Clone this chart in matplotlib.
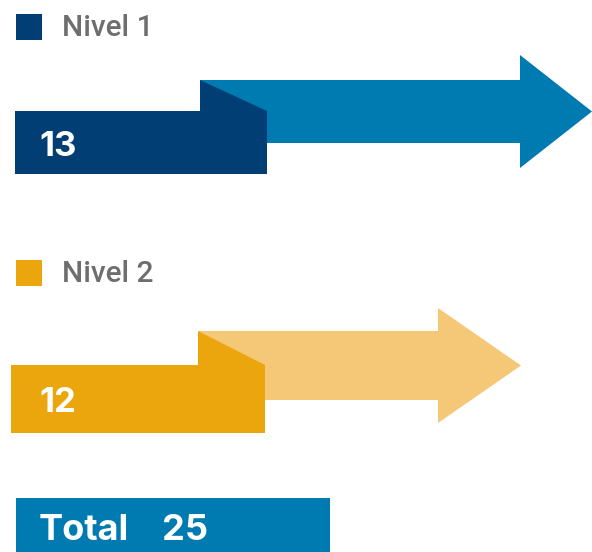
import matplotlib
matplotlib.use("Agg")
import matplotlib.pyplot as plt
from matplotlib.patches import Polygon, Rectangle

# ---- data ----
levels = ["Nivel 1", "Nivel 2"]
values = [13, 12]
total_label = "Total"
total_value = sum(values)

# ---- style ----
dark_colors = ["#003e74", "#eba50d"]
light_colors = ["#007bb1", "#f5c877"]
total_color = "#007bb1"
label_gray = "#6e6e6e"

W, H = 592, 552
fig = plt.figure(figsize=(W / 100, H / 100), dpi=100)
ax = fig.add_axes([0, 0, 1, 1])
ax.set_xlim(0, W)
ax.set_ylim(H, 0)
ax.axis("off")

# value -> horizontal pixel position of arrow tip
def tip_x(v):
    return (v - 4.662) * 71.0

rows = [
    dict(top=14, box_x0=15, box_x1=267, box_top=111, box_bot=174,
         notch_x=200, shaft_top=80, shaft_bot=143, head_top=55, head_bot=168, head_len=72),
    dict(top=260, box_x0=11, box_x1=265, box_top=365, box_bot=433,
         notch_x=198, shaft_top=331, shaft_bot=400, head_top=308, head_bot=423, head_len=83),
]

for lab, val, dc, lc, r in zip(levels, values, dark_colors, light_colors, rows):
    # legend marker + label
    ax.add_patch(Rectangle((16, r["top"]), 26, 26, color=dc, lw=0))
    ax.text(62, r["top"] + 14, lab, color=label_gray, fontsize=21.5, fontweight="medium",
            family="Roboto", va="center", ha="left")
    # light arrow
    tip = tip_x(val)
    hb = tip - r["head_len"]
    ymid = (r["head_top"] + r["head_bot"]) / 2
    arrow = [(r["notch_x"], r["shaft_top"]), (hb, r["shaft_top"]), (hb, r["head_top"]),
             (tip, ymid), (hb, r["head_bot"]), (hb, r["shaft_bot"]),
             (r["notch_x"], r["shaft_bot"])]
    ax.add_patch(Polygon(arrow, closed=True, color=lc, lw=0))
    # dark box with notch
    box = [(r["box_x0"], r["box_bot"]), (r["box_x0"], r["box_top"]),
           (r["notch_x"], r["box_top"]), (r["notch_x"], r["shaft_top"]),
           (r["box_x1"], r["box_top"]), (r["box_x1"], r["box_bot"])]
    ax.add_patch(Polygon(box, closed=True, color=dc, lw=0))
    ax.text(39, (r["box_top"] + r["box_bot"]) / 2 + 4, str(val), color="white",
            fontsize=25, fontweight="bold", family="Inter", va="center", ha="left")

# total box
ax.add_patch(Rectangle((16, 498), 314, 56, color=total_color, lw=0))
ax.text(39, 530, total_label, color="white", fontsize=26, fontweight="bold",
        family="Inter", va="center", ha="left")
ax.text(162, 530, str(total_value), color="white", fontsize=26, fontweight="bold",
        family="Inter", va="center", ha="left")

fig.savefig("out.png", dpi=100)
